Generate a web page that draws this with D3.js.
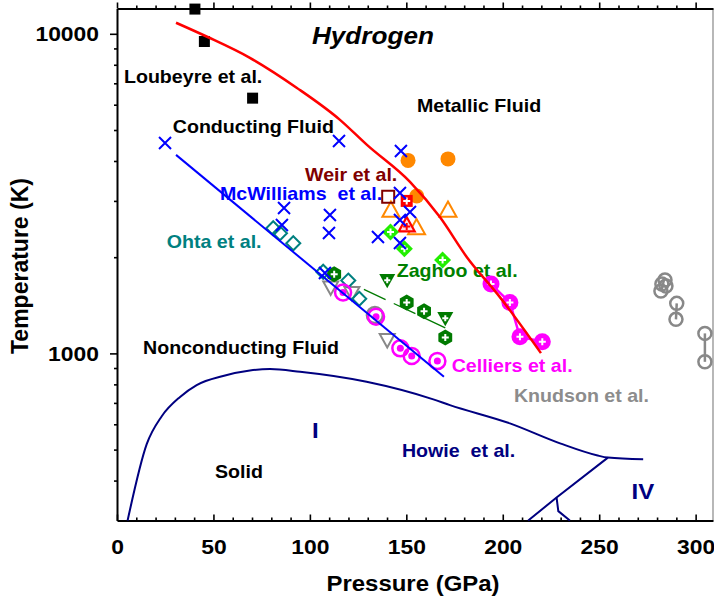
<!DOCTYPE html>
<html><head><meta charset="utf-8">
<script src="https://cdn.jsdelivr.net/npm/d3@7"></script>
<style>
html,body{margin:0;padding:0;background:#fff;}
svg{display:block;font-family:"Liberation Sans",Arial,sans-serif;font-weight:bold;}
</style></head><body>
<svg id="chart" width="714" height="603"></svg>
<script>
// ---- data: pressure (GPa), temperature (K) ----
const loubeyre = [[40.4, 11950], [45.3, 9460], [70.3, 6290]];
const mcwilliams = [[24.9, 4556], [115.1, 4622], [147.2, 4300], [86.6, 2852], [85.5, 2522],
  [110.4, 2712], [109.9, 2381], [135.3, 2313], [146.7, 3177], [151.9, 2770],
  [146.7, 2616], [146.7, 2215], [107.8, 1784]];
const orangeDots = [[150.9, 4017], [171.6, 4060], [155.4, 3109]];
const orangeTri = [[142.0, 2811], [171.6, 2811], [155.3, 2477]];
const redSquare = [[150.2, 3000]];
const redTri = [[150.2, 2522]];
const weir = [[140.6, 3094]];
const greenDiamonds = [[141.8, 2399], [149.0, 2126], [168.8, 1960]];
const zaghooHex = [[112.6, 1769], [150.2, 1443], [159.2, 1355], [170.2, 1121]];
const zaghooTri = [[140.1, 1693], [170.2, 1287]];
const ohta = [[81.0, 2463], [84.5, 2376], [91.4, 2211], [106.9, 1801], [119.9, 1690], [125.6, 1482]];
const grayTri = [[110.8, 1609], [121.8, 1545], [140.1, 1101]];
const grayRing = [[133.7, 1318]];
const celliersOpen = [[117.2, 1550], [134.3, 1302], [146.9, 1037], [152.8, 981], [166.1, 946]];
const celliersFilled = [[193.9, 1648], [203.7, 1444], [208.9, 1127], [220.5, 1087]];
const knudson = [[284.1, 1697], [282.5, 1648], [284.6, 1625], [282.0, 1567],
  [290.2, 1434], [289.8, 1278], [304.8, 1155], [304.8, 941]];
const knudsonPairs = [[[283.5, 1690], [282.3, 1570]], [[290.2, 1434], [289.8, 1278]], [[304.8, 1155], [304.8, 941]]];

// boundary curves
const metallicLine = [[30.6, 10830], [46.7, 9790], [68.9, 8410], [93.3, 6770], [115.6, 5380],
  [129.6, 4490], [151.9, 3440], [167.4, 2670], [181.4, 2000], [198.5, 1500], [219.8, 1002]];
const mcwilliamsFit = [[30.6, 4180], [169.5, 845]];
const zaghooFit = [[128.0, 1586], [170.9, 1197]];
const meltLine = [[5.5, 300], [15.4, 520], [23.2, 636], [32.7, 731], [41.3, 796], [55.0, 850],
  [68.9, 884], [79.3, 893], [94.9, 876], [129.4, 815], [164.0, 718], [172.6, 689],
  [203.7, 604], [229.7, 523], [248.7, 480], [254.5, 472], [272.8, 466]];
const phaseIVLine = [[213.2, 300], [227.9, 354], [254.5, 472]];
const phaseBranch = [[227.9, 354], [228.8, 321], [234.8, 300]];

// axis ticks
const xMajorTicks = [0, 50, 100, 150, 200, 250, 300];
const xMinorTicks = d3.range(0, 310, 10).filter(v => v % 50 !== 0);
const yMajorTicks = [1000, 10000];
const yMinorTicks = [400, 500, 600, 700, 800, 900, 2000, 3000, 4000, 5000, 6000, 7000, 8000, 9000];

// annotations: text, P, T, colour, size
const notes = [
  ["Loubeyre et al.", 3.6, 7040, "#000", 18],
  ["Conducting Fluid", 28.9, 4887, "#000", 18],
  ["Metallic Fluid", 155.5, 5712, "#000", 18],
  ["Weir et al.", 97.5, 3460, "#800000", 18],
  ["McWilliams  et al.", 53.4, 3025, "#0000ff", 18],
  ["Ohta et al.", 25.8, 2141, "#008080", 18],
  ["Zaghoo et al.", 145.0, 1738, "#008000", 18],
  ["Nonconducting Fluid", 13.5, 995, "#000", 18],
  ["Celliers et al.", 173.5, 876, "#ff00ff", 18],
  ["Knudson et al.", 205.8, 705, "#8c8c8c", 18],
  ["Howie  et al.", 147.7, 475, "#000080", 18],
  ["Solid", 50.8, 408, "#000", 18],
  ["I", 101.1, 543, "#000080", 22],
  ["IV", 266.8, 350, "#000080", 22]
];

const svg = d3.select("#chart");
const plotL = 117, plotR = 713, plotT = 8.5, plotB = 520.5;
const x = d3.scaleLinear().domain([0, 309]).range([plotL, plotR]);
const y = d3.scaleLog().domain([300, 12000]).range([plotB, plotT]);
const SX = 1.09; // glyph width factor

svg.append("rect").attr("width", 714).attr("height", 603).attr("fill", "#fff");

// right frame edge
svg.append("line").attr("x1", plotR).attr("x2", plotR).attr("y1", plotT).attr("y2", plotB)
  .attr("stroke", "#888").attr("stroke-width", 1.2);

function styleAxis(g) {
  g.attr("font-family", null).attr("font-size", null);
  g.selectAll(".domain").attr("stroke", "#000").attr("stroke-width", 2);
  g.selectAll(".tick line").attr("stroke", "#000").attr("stroke-width", 1.6);
}

// bottom axis (ticks point up)
const gx = svg.append("g").attr("transform", `translate(0,${plotB})`)
  .call(d3.axisBottom(x).tickValues(xMajorTicks).tickSize(-6).tickSizeOuter(0).tickPadding(18.6).tickFormat(d3.format("d")));
styleAxis(gx);
gx.selectAll("text").attr("font-size", 21).attr("font-weight", "bold").attr("fill", "#000")
  .attr("transform", `scale(${SX},1)`);
const gxm = svg.append("g").attr("transform", `translate(0,${plotB})`)
  .call(d3.axisBottom(x).tickValues(xMinorTicks).tickSize(-3).tickFormat(""));
styleAxis(gxm); gxm.select(".domain").remove();

// top axis (ticks point up)
const gt = svg.append("g").attr("transform", `translate(0,${plotT})`)
  .call(d3.axisTop(x).tickValues(xMajorTicks).tickSize(6).tickSizeOuter(0).tickFormat(""));
styleAxis(gt);
const gtm = svg.append("g").attr("transform", `translate(0,${plotT})`)
  .call(d3.axisTop(x).tickValues(xMinorTicks).tickSize(3).tickFormat(""));
styleAxis(gtm); gtm.select(".domain").remove();

// left axis
const gy = svg.append("g").attr("transform", `translate(${plotL},0)`)
  .call(d3.axisLeft(y).tickValues(yMajorTicks).tickSize(7).tickSizeOuter(0).tickPadding(9.5).tickFormat(d3.format("d")));
styleAxis(gy);
gy.selectAll("text").attr("font-size", 21).attr("font-weight", "bold").attr("fill", "#000")
  .attr("transform", `scale(${SX},1)`);
const gym = svg.append("g").attr("transform", `translate(${plotL},0)`)
  .call(d3.axisLeft(y).tickValues(yMinorTicks).tickSize(3).tickFormat(""));
styleAxis(gym); gym.select(".domain").remove();

// axis titles
svg.append("text").attr("transform", `translate(413,591) scale(${SX},1)`)
  .attr("text-anchor", "middle").attr("font-size", 22).text("Pressure (GPa)");
svg.append("text").attr("transform", "translate(28,266) rotate(-90)")
  .attr("text-anchor", "middle").attr("font-size", 23).text("Temperature (K)");

// title
svg.append("text").attr("transform", `translate(${x(132.7)},${y(9305)}) scale(${SX},1)`)
  .attr("text-anchor", "middle").attr("font-size", 24).attr("font-style", "italic").text("Hydrogen");

// annotations
svg.append("g").selectAll("text").data(notes).join("text")
  .attr("transform", d => `translate(${x(d[1])},${y(d[2])}) scale(${SX},1)`)
  .attr("fill", d => d[3]).attr("font-size", d => d[4]).style("white-space", "pre").text(d => d[0]);

// phase lines (Howie et al.)
const line = d3.line().x(d => x(d[0])).y(d => y(d[1]));
const smooth = d3.line().x(d => x(d[0])).y(d => y(d[1])).curve(d3.curveMonotoneX);
const phase = svg.append("g").attr("fill", "none").attr("stroke", "#000080").attr("stroke-width", 2);
phase.append("path").attr("d", smooth(meltLine));
phase.append("path").attr("d", line(phaseIVLine));
phase.append("path").attr("d", line(phaseBranch));

// marker shapes
const xMark = s => `M${-s},${-s}L${s},${s}M${-s},${s}L${s},${-s}`;
const plus = s => `M${-s},0H${s}M0,${-s}V${s}`;
const square = s => `M${-s},${-s}H${s}V${s}H${-s}Z`;
const diamond = s => `M0,${-s}L${s},0L0,${s}L${-s},0Z`;
const triUp = s => `M0,${-s}L${s},${s * 0.8}L${-s},${s * 0.8}Z`;
const triDown = s => `M0,${s}L${s},${-s * 0.8}L${-s},${-s * 0.8}Z`;
const hexagon = s => "M" + d3.range(6).map(i => {
  const a = Math.PI / 3 * i + Math.PI / 6;
  return [s * Math.cos(a), s * Math.sin(a)].join(",");
}).join("L") + "Z";
const circle = s => `M${s},0A${s},${s} 0 1,1 ${-s},0A${s},${s} 0 1,1 ${s},0Z`;

const marks = svg.append("g");
function draw(data, shape, attrs, cross) {
  const sel = marks.append("g").selectAll("path").data(data).join("path")
    .attr("transform", d => `translate(${x(d[0])},${y(d[1])})`).attr("d", shape);
  Object.entries(attrs).forEach(([k, v]) => sel.attr(k, v));
  if (cross) {
    marks.append("g").selectAll("path").data(data).join("path")
      .attr("transform", d => `translate(${x(d[0])},${y(d[1])})`).attr("d", plus(cross))
      .attr("stroke", "#fff").attr("stroke-width", 2).attr("fill", "none");
  }
}

// Knudson et al.
marks.append("g").selectAll("path").data(knudsonPairs).join("path")
  .attr("d", line).attr("stroke", "#888").attr("stroke-width", 2.5).attr("fill", "none");
draw(knudson, circle(6.5), {fill: "none", stroke: "#888", "stroke-width": 2.5});

// gray open symbols
draw(grayTri, triDown(7.5), {fill: "none", stroke: "#888", "stroke-width": 2});
draw(grayRing, circle(8), {fill: "none", stroke: "#888", "stroke-width": 2.5});

// Ohta et al.
draw(ohta, diamond(7), {fill: "none", stroke: "#008080", "stroke-width": 2});

// orange data
draw(orangeDots, circle(7.5), {fill: "#ff8800"});
draw(orangeTri, triUp(8.5), {fill: "none", stroke: "#ff8800", "stroke-width": 2});

// Weir et al.
draw(weir, square(6), {fill: "none", stroke: "#800000", "stroke-width": 2});
draw(redSquare, square(6), {fill: "#ff0000"}, 3.5);
draw(redTri, triUp(8), {fill: "#ffdddd", stroke: "#ff0000", "stroke-width": 2.2});
marks.append("path").datum(redTri[0])
  .attr("transform", d => `translate(${x(d[0])},${y(d[1]) + 1.5})`).attr("d", plus(3.5))
  .attr("stroke", "#ff0000").attr("stroke-width", 2);

// bright green diamonds
draw(greenDiamonds, diamond(8.5), {fill: "#22ee00"}, 3.5);

// Zaghoo et al.
draw(zaghooHex, hexagon(8), {fill: "#007a00"}, 3.5);
draw(zaghooTri, triDown(8), {fill: "#007a00"}, 3);

// Celliers et al.
marks.append("path").attr("d", line(celliersFilled)).attr("stroke", "#ff00ff").attr("stroke-width", 2.5).attr("fill", "none");
draw(celliersFilled, circle(8.5), {fill: "#ff00ff"}, 3.5);
draw(celliersOpen, circle(8), {fill: "none", stroke: "#ff00ff", "stroke-width": 2.5});
draw(celliersOpen, circle(3.5), {fill: "#ff00ff"});

// Loubeyre et al.
draw(loubeyre, square(5.5), {fill: "#000"});

// McWilliams et al.
draw(mcwilliams, xMark(6), {fill: "none", stroke: "#0000ff", "stroke-width": 2});

// fits and transition lines
svg.append("path").attr("d", line(zaghooFit)).attr("stroke", "#007a00").attr("stroke-width", 1.3)
  .attr("stroke-dasharray", "24,9").attr("fill", "none");
svg.append("path").attr("d", line(mcwilliamsFit)).attr("stroke", "#0000ff").attr("stroke-width", 2).attr("fill", "none");
svg.append("path").attr("d", smooth(metallicLine)).attr("stroke", "#ff0000").attr("stroke-width", 2.5).attr("fill", "none");
</script>
</body></html>
